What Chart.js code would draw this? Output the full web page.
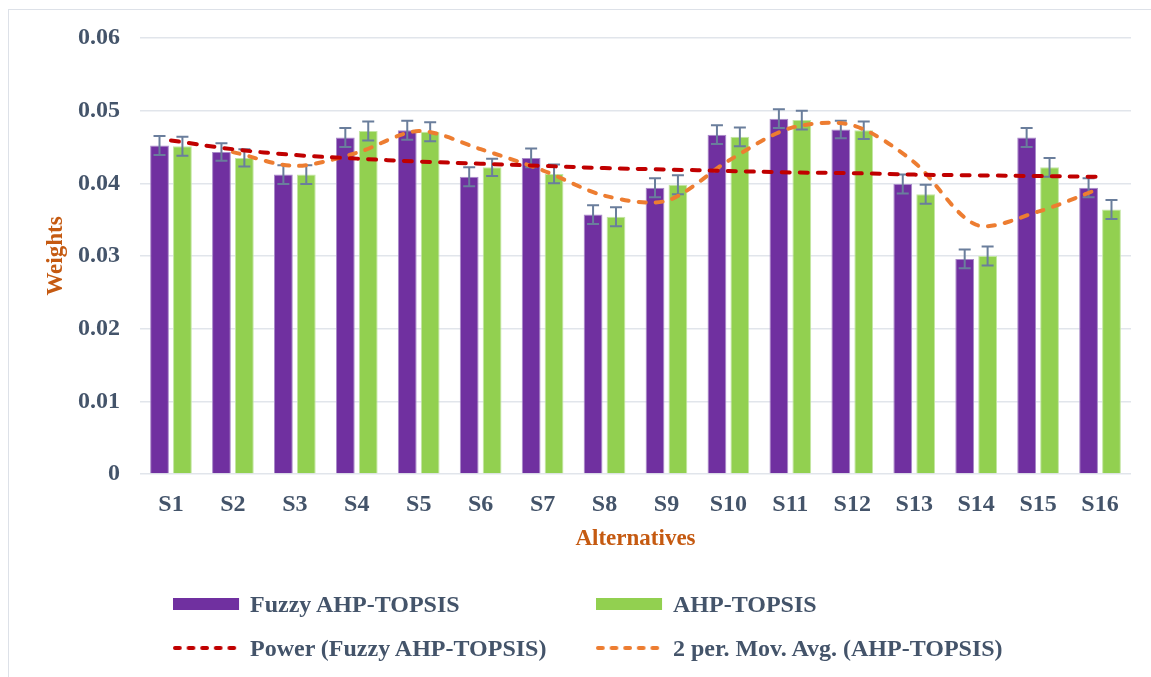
<!DOCTYPE html>
<html>
<head>
<meta charset="utf-8">
<script src="https://cdn.jsdelivr.net/npm/chart.js@4"></script>
<style>
  html, body { margin: 0; padding: 0; background: #fff; }
  #wrap { position: relative; width: 1151px; height: 677px; overflow: hidden; }
  #frame { position: absolute; left: 8px; top: 9px; width: 1160px; height: 700px;
           border-top: 1px solid #DDE1E8; border-left: 1px solid #DDE1E8; }
  canvas { position: absolute; left: 0; top: 0; }
  #legend { position: absolute; left: 173px; top: 590px; font: bold 24px "Liberation Serif", "Times New Roman", serif;
            color: #44546A; display: grid; grid-template-columns: 423px 420px; row-gap: 16px; }
  .item { display: flex; align-items: center; height: 28px; white-space: nowrap; }
  .sw { width: 68px; height: 12px; margin-right: 9px; flex: none; }
</style>
</head>
<body>
<div id="wrap">
  <div id="frame"></div>
  <canvas id="c" width="1151" height="677"></canvas>
  <div id="legend"></div>
</div>
<script>
const categories = ['S1', 'S2', 'S3', 'S4', 'S5', 'S6', 'S7', 'S8', 'S9', 'S10', 'S11', 'S12', 'S13', 'S14', 'S15', 'S16'];
const fuzzyAhpTopsis = [0.0452, 0.0443, 0.0412, 0.0463, 0.0473, 0.0409, 0.0435, 0.0357, 0.0394, 0.0467, 0.0489, 0.0474, 0.0399, 0.0296, 0.0463, 0.0394];
const ahpTopsis = [0.0451, 0.0435, 0.0412, 0.0472, 0.0471, 0.0422, 0.0413, 0.0354, 0.0398, 0.0464, 0.0487, 0.0473, 0.0385, 0.0300, 0.0422, 0.0364];
const fuzzyErrors = [0.0013, 0.0012, 0.0013, 0.0013, 0.0013, 0.0013, 0.0013, 0.0013, 0.0013, 0.0013, 0.0013, 0.0012, 0.0013, 0.0013, 0.0013, 0.0013];
const ahpErrors = [0.0013, 0.0012, 0.0013, 0.0013, 0.0013, 0.0012, 0.0013, 0.0013, 0.0013, 0.0013, 0.0013, 0.0012, 0.0013, 0.0013, 0.0013, 0.0013];
const powerTrend = [0.0459, 0.0447, 0.0439, 0.0434, 0.0430, 0.0427, 0.0424, 0.0421, 0.0419, 0.0417, 0.0415, 0.0414, 0.0412, 0.0411, 0.0410, 0.0409];
const movingAvg = [null, 0.0443, 0.0424, 0.0442, 0.0472, 0.0447, 0.0418, 0.0383, 0.0376, 0.0431, 0.0476, 0.0480, 0.0429, 0.0343, 0.0361, 0.0393];
const yTicks = [0, 0.01, 0.02, 0.03, 0.04, 0.05, 0.06];

const textColor = '#44546A';
const titleColor = '#C55A11';
const serif = '"Liberation Serif", "Times New Roman", serif';

// error bars drawn right after each bar dataset
const errorBars = {
    id: 'errorBars',
    afterDatasetDraw(chart, args) {
        const ds = chart.data.datasets[args.index];
        if (!ds.errors) return;
        const meta = args.meta;
        const y = chart.scales.y;
        const ctx = chart.ctx;
        ctx.save();
        ctx.strokeStyle = '#6A7E9C';
        ctx.lineWidth = 2;
        meta.data.forEach((bar, i) => {
            const v = ds.data[i];
            const top = y.getPixelForValue(v + ds.errors[i]);
            const bot = y.getPixelForValue(v - ds.errors[i]);
            ctx.beginPath();
            ctx.moveTo(bar.x, top); ctx.lineTo(bar.x, bot);
            ctx.moveTo(bar.x - 6, top); ctx.lineTo(bar.x + 6, top);
            ctx.moveTo(bar.x - 6, bot); ctx.lineTo(bar.x + 6, bot);
            ctx.stroke();
        });
        ctx.restore();
    }
};

const chart = new Chart(document.getElementById('c'), {
    type: 'bar',
    data: {
        labels: categories,
        datasets: [{
            label: 'Fuzzy AHP-TOPSIS',
            data: fuzzyAhpTopsis,
            errors: fuzzyErrors,
            backgroundColor: '#7030A0',
            borderColor: '#A98BC9',
            borderWidth: 1,
            order: 1
        }, {
            label: 'AHP-TOPSIS',
            data: ahpTopsis,
            errors: ahpErrors,
            backgroundColor: '#92D050',
            borderColor: '#C3E6A3',
            borderWidth: 1,
            order: 1
        }, {
            type: 'line',
            label: 'Power (Fuzzy AHP-TOPSIS)',
            data: powerTrend,
            borderColor: '#C00000',
            borderWidth: 4,
            borderDash: [8, 10],
            borderCapStyle: 'round',
            pointRadius: 0,
            tension: 0.4,
            order: 0
        }, {
            type: 'line',
            label: '2 per. Mov. Avg. (AHP-TOPSIS)',
            data: movingAvg,
            borderColor: '#ED7D31',
            borderWidth: 4,
            borderDash: [7, 10],
            borderCapStyle: 'round',
            pointRadius: 0,
            tension: 0.3,
            order: 0
        }]
    },
    options: {
        responsive: false,
        animation: false,
        layout: { padding: { top: 38, left: 0, right: 20, bottom: 123 } },
        datasets: {
            bar: { categoryPercentage: 0.74, barPercentage: 0.82 }
        },
        plugins: {
            legend: { display: false },
            tooltip: { enabled: false }
        },
        scales: {
            x: {
                grid: { display: false },
                border: { display: false },
                ticks: {
                    color: textColor,
                    padding: 8,
                    font: { family: serif, size: 24, weight: 'bold' }
                },
                title: {
                    display: true,
                    text: 'Alternatives',
                    color: titleColor,
                    padding: { top: 0, bottom: 1 },
                    font: { family: serif, size: 23, weight: 'bold' }
                },
                afterFit(axis) { axis.height = 80; }
            },
            y: {
                min: 0,
                max: 0.06,
                afterBuildTicks(axis) { axis.ticks = yTicks.map(v => ({ value: v })); },
                grid: { color: '#E1E5EB', lineWidth: 1.5, drawTicks: false },
                border: { display: false },
                ticks: {
                    color: textColor,
                    padding: 20,
                    font: { family: serif, size: 24, weight: 'bold' },
                    callback: v => String(+v.toFixed(2))
                },
                title: {
                    display: true,
                    text: 'Weights',
                    color: titleColor,
                    padding: { top: 42, bottom: 0 },
                    font: { family: serif, size: 23, weight: 'bold' }
                },
                afterFit(axis) { axis.width = 140; }
            }
        }
    },
    plugins: [errorBars]
});

// two-column legend under the chart
const legend = document.getElementById('legend');
chart.data.datasets.forEach(ds => {
    const item = document.createElement('div');
    item.className = 'item';
    const sw = document.createElement('canvas');
    sw.width = 70; sw.height = 12;
    sw.className = 'sw';
    sw.style.position = 'static';
    const g = sw.getContext('2d');
    if (ds.type === 'line') {
        g.strokeStyle = ds.borderColor;
        g.lineWidth = 4;
        g.lineCap = 'round';
        g.setLineDash([5, 9]);
        g.beginPath(); g.moveTo(2, 6); g.lineTo(68, 6); g.stroke();
    } else {
        g.fillStyle = ds.backgroundColor;
        g.fillRect(0, 0, 68, 12);
    }
    item.appendChild(sw);
    const t = document.createElement('span');
    t.textContent = ds.label;
    item.appendChild(t);
    legend.appendChild(item);
});
</script>
</body>
</html>
